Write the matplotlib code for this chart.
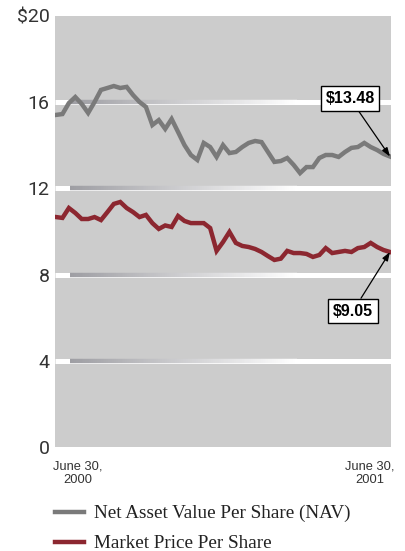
import matplotlib
matplotlib.use("Agg")
import matplotlib.pyplot as plt
import numpy as np
from matplotlib.collections import LineCollection
import matplotlib.transforms as mtransforms

# ---- data (weekly, June 30 2000 -> June 30 2001) ----
nav = [15.41, 15.45, 15.96, 16.24, 15.92, 15.50, 16.01, 16.57, 16.66, 16.75,
       16.66, 16.71, 16.33, 16.01, 15.78, 14.94, 15.17, 14.76, 15.22, 14.62,
       14.01, 13.55, 13.32, 14.11, 13.92, 13.46, 14.01, 13.64, 13.69, 13.92,
       14.11, 14.20, 14.15, 13.69, 13.23, 13.27, 13.41, 13.09, 12.71, 12.99,
       12.99, 13.41, 13.55, 13.55, 13.46, 13.69, 13.88, 13.92, 14.11, 13.92,
       13.78, 13.60, 13.48]
market = [10.67, 10.63, 11.09, 10.86, 10.58, 10.58, 10.67, 10.53, 10.90, 11.28,
          11.37, 11.09, 10.90, 10.67, 10.77, 10.39, 10.12, 10.28, 10.21, 10.72,
          10.49, 10.39, 10.39, 10.39, 10.16, 9.10, 9.51, 9.98, 9.47, 9.33,
          9.28, 9.19, 9.05, 8.86, 8.68, 8.74, 9.10, 9.00, 9.00, 8.96,
          8.82, 8.91, 9.23, 9.00, 9.05, 9.10, 9.05, 9.23, 9.28, 9.47,
          9.28, 9.14, 9.05]
weeks = list(range(len(nav)))
y_ticks = [0, 4, 8, 12, 16, 20]
y_tick_labels = ["0", "4", "8", "12", "16", "$20"]
x_tick_labels = ["June 30,\n2000", "June 30,\n2001"]
series_labels = ["Net Asset Value Per Share (NAV)", "Market Price Per Share"]
end_labels = ["$13.48", "$9.05"]

W, H = 406, 551
fig = plt.figure(figsize=(W / 100, H / 100), dpi=100)
ax = fig.add_axes([55 / W, 1 - 447 / H, 336 / W, 431 / H])
ax.set_facecolor("#cccccc")
for s in ax.spines.values():
    s.set_visible(False)

ax.set_xlim(-0.16, len(nav) - 1 + 0.16)
ax.set_ylim(0, 20)

# gridlines: white with grey gradient overlay
trans = mtransforms.blended_transform_factory(ax.transAxes, ax.transData)
for g in [4, 8, 12, 16]:
    ax.plot([0, 1], [g, g], transform=trans, color="white", lw=3.6,
            solid_capstyle="butt", zorder=1)
    xs = np.linspace(0.045, 0.72, 120)
    segs = [[(xs[i], g), (xs[i + 1], g)] for i in range(len(xs) - 1)]
    t = np.linspace(0, 1, len(segs))
    c0 = np.array([0.62, 0.62, 0.64])
    cols = [tuple(c0 + (1 - c0) * tt) for tt in t]
    lc = LineCollection(segs, colors=cols, linewidths=3.2, transform=trans,
                        zorder=1.5, capstyle="butt")
    ax.add_collection(lc)

l1, = ax.plot(weeks, nav, color="#7a7a7a", lw=3.2, zorder=3,
              solid_joinstyle="miter")
l2, = ax.plot(weeks, market, color="#8c2730", lw=3.2, zorder=3,
              solid_joinstyle="miter")

ax.set_yticks(y_ticks)
ax.set_yticklabels(y_tick_labels, fontsize=14, color="#333333",
                   family=["Roboto", "DejaVu Sans"], fontweight="normal")
ax.set_xticks([weeks[0] + 3.4, weeks[-1] - 3.1])
ax.set_xticklabels(x_tick_labels, fontsize=9.3, color="#333333",
                   family=["Liberation Sans", "DejaVu Sans"],
                   multialignment="center", linespacing=1.15)
ax.tick_params(axis="both", length=0)
ax.tick_params(axis="y", pad=4)
ax.tick_params(axis="x", pad=10)

bbox = dict(boxstyle="square,pad=0.3", fc="white", ec="black", lw=1)
arrow = dict(arrowstyle="-|>,head_length=0.45,head_width=0.16", color="black",
             lw=0.9, shrinkA=0, shrinkB=0)
ax.annotate(end_labels[0], xy=(weeks[-1], nav[-1]), xytext=(350, H - 98.5),
            textcoords="figure pixels", ha="center", va="center",
            fontsize=11.5, fontweight="bold", bbox=bbox, arrowprops=arrow,
            family=["Liberation Sans", "DejaVu Sans"], zorder=5,
            annotation_clip=False)
ax.annotate(end_labels[1], xy=(weeks[-1], market[-1]), xytext=(353, H - 311),
            textcoords="figure pixels", ha="center", va="center",
            fontsize=11.5, fontweight="bold", bbox=bbox, arrowprops=arrow,
            family=["Liberation Sans", "DejaVu Sans"], zorder=5,
            annotation_clip=False)

leg = ax.legend([l1, l2], series_labels, loc="upper left",
                bbox_to_anchor=(55 / W, 1 - 505 / H),
                bbox_transform=fig.transFigure, frameon=False,
                prop=dict(family="Liberation Serif", size=13.8),
                handlelength=1.5, handletextpad=0.55, borderpad=0,
                borderaxespad=0, labelspacing=0.65)
for t in leg.get_texts():
    t.set_color("#222222")

fig.savefig("out.png", dpi=100)
